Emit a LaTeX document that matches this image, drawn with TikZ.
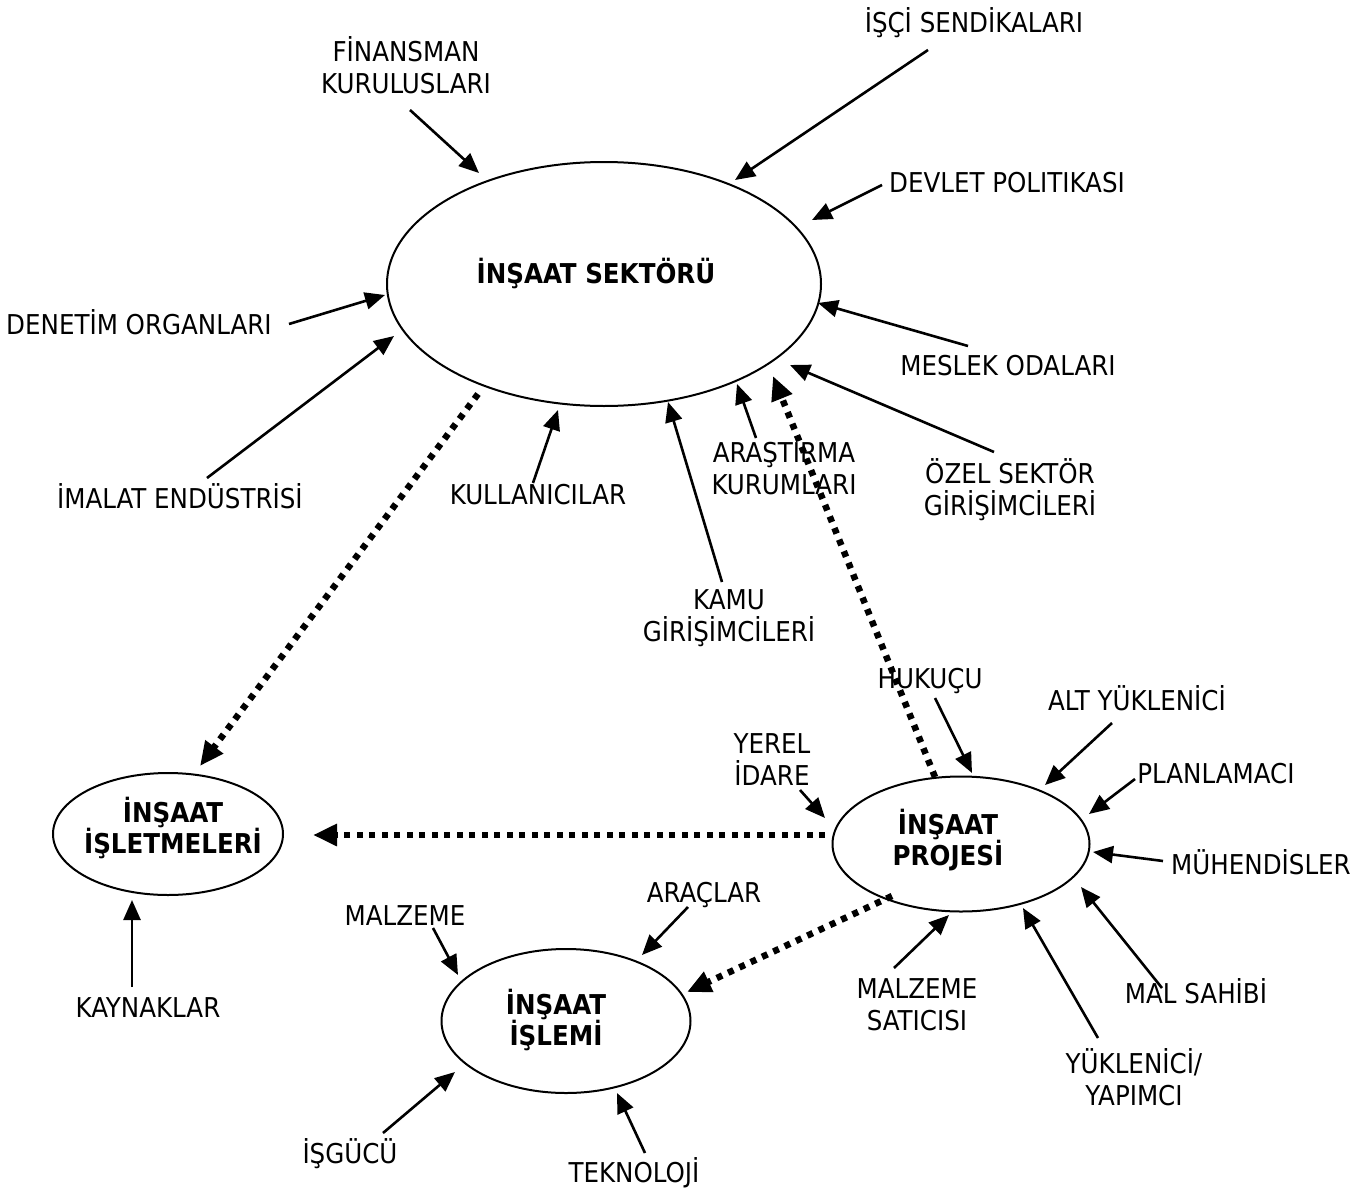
\documentclass[tikz,border=0pt]{standalone}
\usepackage{fontspec}
\setmainfont{DejaVu Sans Condensed}
\usetikzlibrary{shapes.geometric, arrows.meta, positioning}

\tikzset{
  lbl/.style={anchor=base, align=center, inner sep=0pt, font=\fontsize{27.3}{31.5}\selectfont},
  hubtxt/.style={lbl, font=\fontsize{27.3}{31}\selectfont\bfseries},
  hub/.style={draw, ellipse, line width=2pt, inner sep=0pt},
  arr/.style={line width=2.6pt, -{Triangle[length=20pt,width=17pt]}},
  dotarr/.style={line width=6.5pt, dash pattern=on 6pt off 6.5pt, -{Triangle[length=24pt,width=21pt]}}
}

\begin{document}
\begin{tikzpicture}[x=1pt,y=-1pt]
    \useasboundingbox (0,0) rectangle (1371,1191);

    % the four ellipses
    \node[hub, minimum width=434, minimum height=244] (sektor) at (604,284) {};
    \node[hub, minimum width=230, minimum height=122] (isletme) at (168,834) {};
    \node[hub, minimum width=257, minimum height=135] (proje) at (961,844) {};
    \node[hub, minimum width=249, minimum height=144] (islem) at (566,1021) {};

    % texts of the ellipses (base = last line)
    \node[hubtxt] (sektortxt) at (596,283) {İNŞAAT SEKTÖRÜ};
    \node[hubtxt] (isletmetxt) at (173,853) {İNŞAAT\\İŞLETMELERİ};
    \node[hubtxt] (projetxt) at (948,865) {İNŞAAT\\PROJESİ};
    \node[hubtxt] (islemtxt) at (556,1045) {İNŞAAT\\İŞLEMİ};

    % labels
    \node[lbl] (finans) at (406,93) {FİNANSMAN\\KURULUSLARI};
    \node[lbl] (sendika) at (974,32) {İŞÇİ SENDİKALARI};
    \node[lbl] (devlet) at (1007,192) {DEVLET POLITIKASI};
    \node[lbl] (denetim) at (139,334) {DENETİM ORGANLARI};
    \node[lbl] (meslek) at (1008,375) {MESLEK ODALARI};
    \node[lbl] (imalat) at (180,508) {İMALAT ENDÜSTRİSİ};
    \node[lbl] (kullanici) at (538,504) {KULLANICILAR};
    \node[lbl] (arastirma) at (784,494) {ARAŞTIRMA\\KURUMLARI};
    \node[lbl] (ozel) at (1010,515) {ÖZEL SEKTÖR\\GİRİŞİMCİLERİ};
    \node[lbl] (kamu) at (729,641) {KAMU\\GİRİŞİMCİLERİ};
    \node[lbl] (hukuk) at (930,688) {HUKUÇU};
    \node[lbl] (alt) at (1137,710) {ALT YÜKLENİCİ};
    \node[lbl] (yerel) at (772,785) {YEREL\\İDARE};
    \node[lbl] (plan) at (1216,783) {PLANLAMACI};
    \node[lbl] (muhendis) at (1261,874) {MÜHENDİSLER};
    \node[lbl] (arac) at (704,902) {ARAÇLAR};
    \node[lbl] (malzeme) at (405,925) {MALZEME};
    \node[lbl] (kaynak) at (148,1017) {KAYNAKLAR};
    \node[lbl] (satici) at (917,1030) {MALZEME\\SATICISI};
    \node[lbl] (malsahibi) at (1196,1003) {MAL SAHİBİ};
    \node[lbl] (yuklenici) at (1134,1105) {YÜKLENİCİ/\\YAPIMCI};
    \node[lbl] (isgucu) at (350,1163) {İŞGÜCÜ};
    \node[lbl] (teknoloji) at (634,1182) {TEKNOLOJİ};

    % arrow ends
    \coordinate (finans-t) at (410,110);    \coordinate (finans-h) at (479,173);
    \coordinate (sendika-t) at (928,50);    \coordinate (sendika-h) at (735,180);
    \coordinate (devlet-t) at (882,185);    \coordinate (devlet-h) at (812,220);
    \coordinate (denetim-t) at (289,324);   \coordinate (denetim-h) at (385,295);
    \coordinate (imalat-t) at (207,478);    \coordinate (imalat-h) at (394,336);
    \coordinate (meslek-t) at (968,346);    \coordinate (meslek-h) at (818,303);
    \coordinate (ozel-t) at (994,452);      \coordinate (ozel-h) at (790,365);
    \coordinate (kullanici-t) at (533,483); \coordinate (kullanici-h) at (558,410);
    \coordinate (arastirma-t) at (756,438); \coordinate (arastirma-h) at (737,384);
    \coordinate (kamu-t) at (722,582);      \coordinate (kamu-h) at (668,402);
    \coordinate (hukuk-t) at (935,698);     \coordinate (hukuk-h) at (972,773);
    \coordinate (alt-t) at (1112,723);      \coordinate (alt-h) at (1045,785);
    \coordinate (plan-t) at (1135,779);     \coordinate (plan-h) at (1089,814);
    \coordinate (muhendis-t) at (1163,861); \coordinate (muhendis-h) at (1093,852);
    \coordinate (malsahibi-t) at (1162,988);\coordinate (malsahibi-h) at (1081,887);
    \coordinate (yuklenici-t) at (1098,1038);\coordinate (yuklenici-h) at (1023,908);
    \coordinate (satici-t) at (894,968);    \coordinate (satici-h) at (949,915);
    \coordinate (yerel-t) at (800,790);     \coordinate (yerel-h) at (825,818);
    \coordinate (arac-t) at (688,907);      \coordinate (arac-h) at (642,955);
    \coordinate (malzeme-t) at (433,928);   \coordinate (malzeme-h) at (458,975);
    \coordinate (isgucu-t) at (383,1133);   \coordinate (isgucu-h) at (455,1072);
    \coordinate (teknoloji-t) at (645,1153);\coordinate (teknoloji-h) at (617,1093);
    \coordinate (kaynak-t) at (132,987);    \coordinate (kaynak-h) at (132,900);

    \draw[arr] (finans-t) -- (finans-h);
    \draw[arr] (sendika-t) -- (sendika-h);
    \draw[arr] (devlet-t) -- (devlet-h);
    \draw[arr] (denetim-t) -- (denetim-h);
    \draw[arr] (imalat-t) -- (imalat-h);
    \draw[arr] (meslek-t) -- (meslek-h);
    \draw[arr] (ozel-t) -- (ozel-h);
    \draw[arr] (kullanici-t) -- (kullanici-h);
    \draw[arr] (arastirma-t) -- (arastirma-h);
    \draw[arr] (kamu-t) -- (kamu-h);
    \draw[arr] (hukuk-t) -- (hukuk-h);
    \draw[arr] (alt-t) -- (alt-h);
    \draw[arr] (plan-t) -- (plan-h);
    \draw[arr] (muhendis-t) -- (muhendis-h);
    \draw[arr] (malsahibi-t) -- (malsahibi-h);
    \draw[arr] (yuklenici-t) -- (yuklenici-h);
    \draw[arr] (satici-t) -- (satici-h);
    \draw[arr] (yerel-t) -- (yerel-h);
    \draw[arr] (arac-t) -- (arac-h);
    \draw[arr] (malzeme-t) -- (malzeme-h);
    \draw[arr] (isgucu-t) -- (isgucu-h);
    \draw[arr] (teknoloji-t) -- (teknoloji-h);
    \draw[arr] (kaynak-t) -- (kaynak-h);

    % dotted links between the ellipses
    \coordinate (d1-t) at (478,394);  \coordinate (d1-h) at (200,766);
    \coordinate (d2-t) at (825,835);  \coordinate (d2-h) at (313,835);
    \coordinate (d3-t) at (935,777);  \coordinate (d3-h) at (773,376);
    \coordinate (d4-t) at (892,896);  \coordinate (d4-h) at (687,992);

    \draw[dotarr] (d1-t) -- (d1-h);
    \draw[dotarr] (d2-t) -- (d2-h);
    \draw[dotarr] (d3-t) -- (d3-h);
    \draw[dotarr] (d4-t) -- (d4-h);

\end{tikzpicture}
\end{document}
